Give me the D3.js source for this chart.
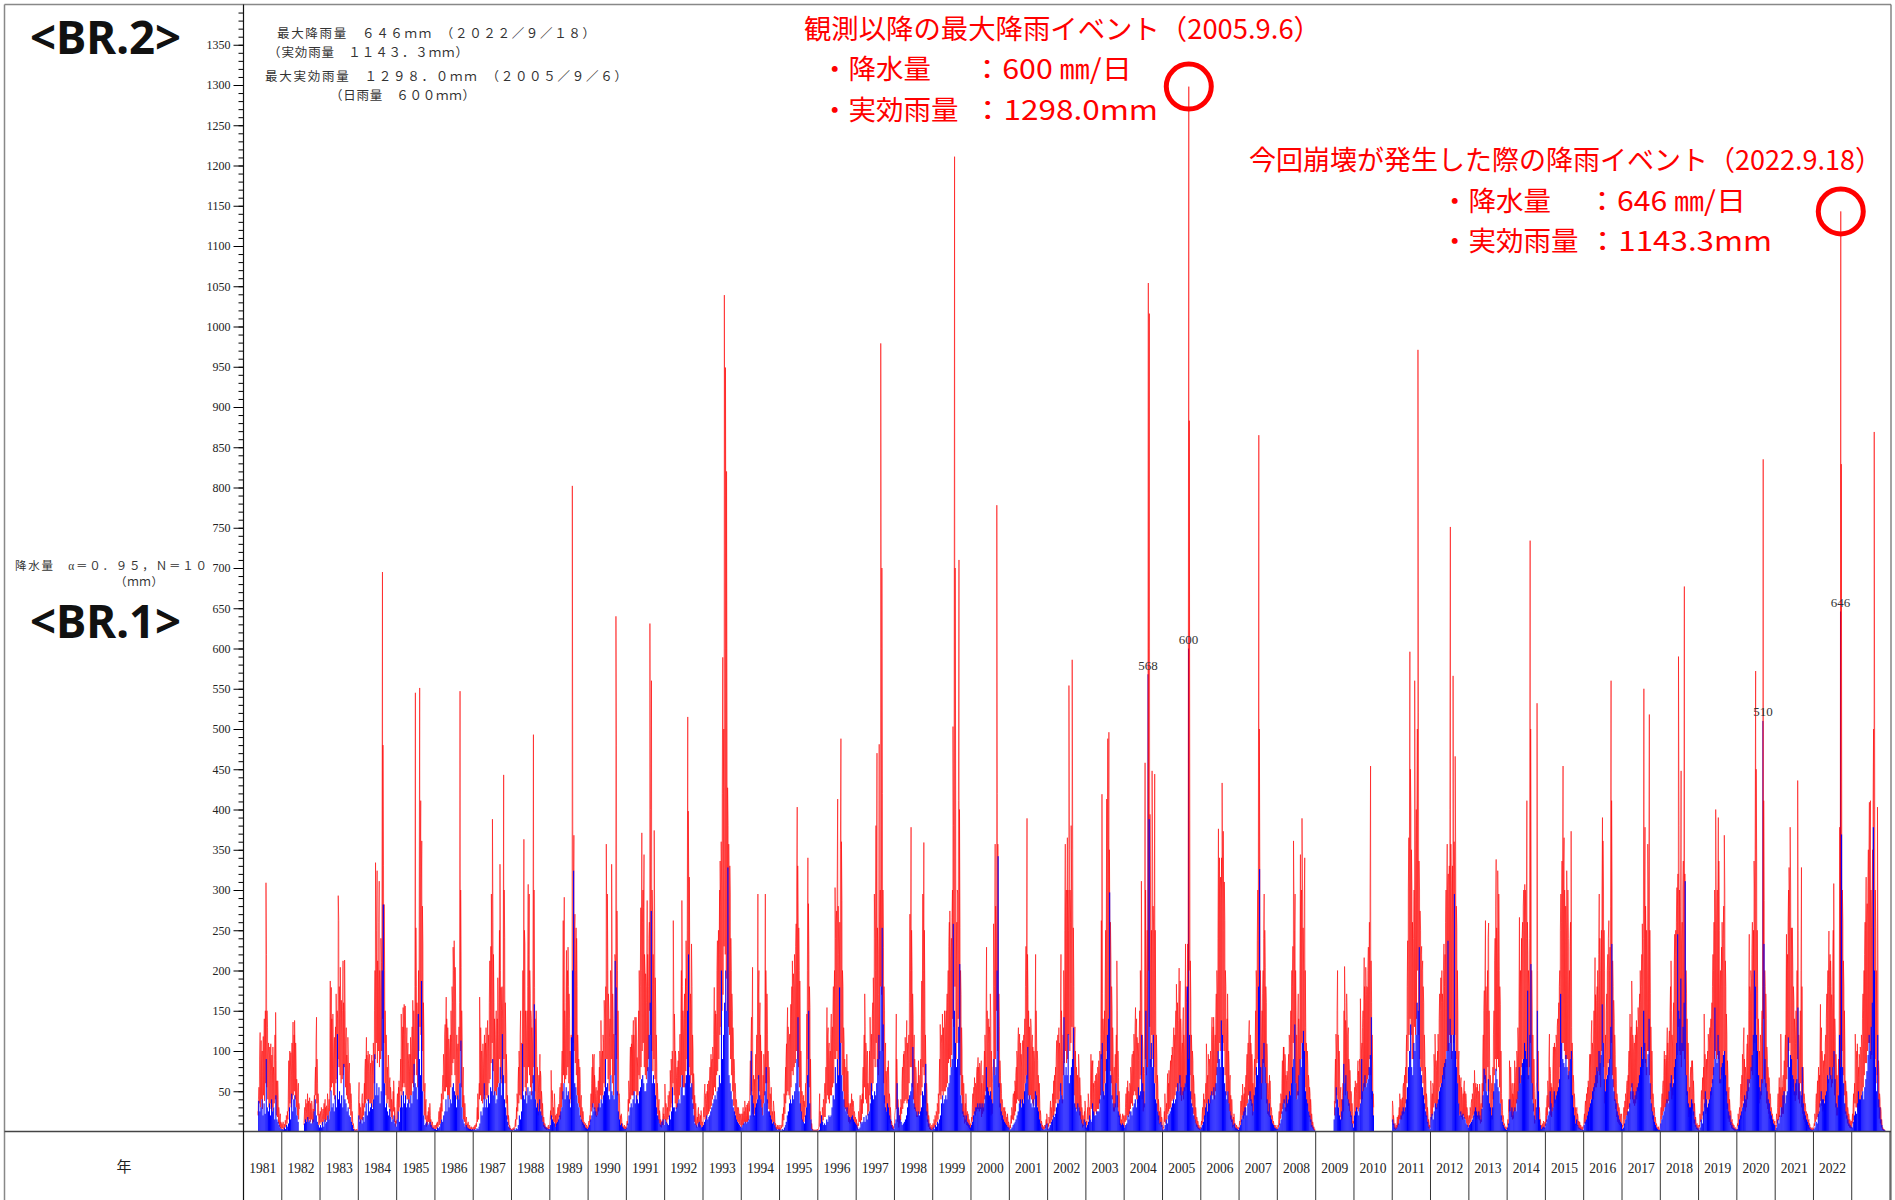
<!DOCTYPE html>
<html>
<head>
<meta charset="utf-8">
<script src="https://cdn.jsdelivr.net/npm/d3@7"></script>
<style>
  html, body { margin: 0; padding: 0; background: #fff; }
  svg { display: block; }
</style>
</head>
<body>
<svg id="chart" width="1895" height="1200"></svg>
<script>
// ---------------------------------------------------------------
// Rainfall record 1981-2023
// effectiveRain:    effective rainfall (mm), 6 samples per month (every 5 days)
// effectiveRainLow: lowest effective rainfall (mm) in each 10-day period
// dailyRain:        largest daily rainfall (mm) in each 10-day period
// null = no observation
// ---------------------------------------------------------------
const N = null;
const firstYear = 1981;

const effectiveRain = [
  /*1981*/ [N,N,N,N,N,N, N,N,N,N,N,N, N,N,N,N,N,N, N,N,N,N,N,N, N,N,N,25,40,55, 90,123,70,113,85,100, 75,118,90,140,100,150, 309,220,150,129,95,110, 80,105,70,109,75,95, 60,105,80,70,90,120, 148,88,63,45,63,40, 30,22,15,22,12,8],
  /*1982*/ [10,6,12,8,5,9, 14,8,20,12,25,15, 40,88,60,100,75,98, 70,110,85,136,90,120, 138,95,110,80,65,55, 43,60,35,28,N,N, N,N,N,N,N,N, 18,30,25,40,22,35, 47,30,38,25,42,30, 35,25,38,30,22,28, 35,45,60,80,110,142, 90,60,47,35,22,15],
  /*1983*/ [25,18,30,20,15,28, 22,35,28,40,30,25, 32,28,47,35,30,40, 55,187,120,179,140,110, 146,100,90,117,85,130, 171,120,150,140,293,262, 180,150,204,140,163,120, 150,212,160,140,213,150, 110,129,95,80,117,90, 72,85,60,55,47,35, 25,13,10,6,3,2, 2,2,3,2,2,3],
  /*1984*/ [40,61,35,28,30,22, 40,47,35,30,45,60, 75,90,80,117,95,85, 100,75,88,96,70,85, 80,95,70,88,110,85, 150,200,334,220,250,324, 212,180,260,311,200,171, 240,210,280,695,480,330, 282,200,150,96,120,90, 80,67,95,75,60,67, 55,47,40,35,30,50, 63,45,30,20,13,10],
  /*1985*/ [35,47,30,55,63,45, 60,90,146,110,95,130, 154,120,158,130,156,120, 100,129,90,110,85,96, 75,96,117,90,105,130, 163,120,150,110,180,545, 253,180,160,140,121,200, 260,551,320,411,300,361, 280,233,160,120,47,60, 35,40,13,20,15,25, 30,22,35,20,15,10, 8,12,6,5,8,5],
  /*1986*/ [5,8,6,10,12,8, 15,25,18,30,22,35, 47,30,55,70,96,80, 120,133,110,167,140,120, 129,100,115,100,90,120, 150,110,180,160,229,200, 237,180,204,150,88,120, 100,109,90,130,160,547, 300,204,150,110,59,80, 45,26,35,20,13,18, 10,8,12,6,5,8, 5,4,6,3,4,5],
  /*1987*/ [4,6,5,8,5,10, 15,30,47,25,40,60, 167,110,129,90,100,85, 109,80,95,120,100,110, 129,90,110,138,100,120, 160,212,150,230,295,200, 388,260,220,160,140,100, 121,150,110,140,191,120, 160,250,332,200,179,150, 180,140,160,443,300,241, 160,120,96,70,45,26, 20,14,8,6,4,3],
  /*1988*/ [3,2,4,3,5,3, 8,15,12,30,47,35, 60,80,100,75,120,150, 110,109,90,200,120,363, 250,233,150,125,110,150, 180,307,220,295,200,171, 150,140,129,110,200,493, 300,179,140,120,150,96, 80,60,47,70,55,96, 75,67,50,40,35,22, 18,12,10,8,6,5, 5,4,6,8,5,4],
  /*1989*/ [15,26,76,40,51,35, 30,25,47,30,20,13, 15,22,18,30,25,34, 40,55,34,60,75,100, 90,262,180,291,150,129, 160,225,180,200,229,180, 171,140,100,72,120,100, 802,324,290,368,250,270, 200,253,240,180,120,100, 90,72,80,60,38,45, 30,22,25,15,12,10, 8,10,6,8,5,6],
  /*1990*/ [8,13,10,20,30,47, 60,80,96,70,90,96, 70,60,47,55,40,51, 45,63,55,80,100,75, 138,100,90,100,120,110, 163,140,130,180,357,250, 295,200,171,150,117,140, 200,180,332,220,171,140, 121,100,220,212,640,480, 274,200,150,90,47,35, 13,20,22,15,10,8, 6,5,8,5,6,4],
  /*1991*/ [8,13,20,40,63,50, 80,105,90,109,120,100, 109,138,120,100,142,130, 142,110,92,80,110,150, 200,150,180,278,200,371, 260,300,278,344,220,200, 196,180,160,287,220,180, 240,260,631,400,330,560, 300,270,220,183,374,250, 191,150,120,80,60,45, 30,40,26,20,15,13, 10,13,20,30,22,15],
  /*1992*/ [59,40,35,30,20,30, 45,30,50,40,76,55, 90,72,100,80,262,150, 146,110,100,88,67,80, 70,88,100,95,120,121, 140,200,287,180,150,121, 140,171,140,190,237,180, 250,515,398,300,316,200, 171,150,233,180,120,100, 72,60,45,26,35,20, 13,18,25,30,22,15, 13,20,26,18,12,10],
  /*1993*/ [18,30,45,59,40,47, 35,50,59,45,63,55, 63,80,70,96,85,90, 105,90,120,179,130,150, 146,120,200,237,180,250, 220,300,336,280,360,300, 420,589,427,500,1039,700, 949,600,820,500,427,380, 357,300,330,295,240,200, 171,150,129,110,90,76, 60,47,40,35,30,28, 30,25,22,20,18,22],
  /*1994*/ [13,22,18,30,20,25, 38,25,30,20,33,28, 35,25,38,30,60,88, 110,142,120,204,55,70, 47,65,50,96,80,120, 100,295,171,200,130,160, 120,88,100,60,47,70, 96,80,120,295,200,160, 171,120,100,63,80,60, 47,40,55,30,25,20, 38,30,25,13,10,8, 5,6,8,6,5,8],
  /*1995*/ [5,3,8,6,10,22, 15,30,47,35,60,80, 90,109,121,154,130,121, 110,121,100,158,140,180, 212,160,196,180,220,196, 230,258,300,403,330,253, 253,200,187,120,100,63, 50,40,30,45,38,30, 47,60,80,146,200,340, 283,220,180,154,90,40, 10,5,3,2,2,2, 2,2,2,2,2,3],
  /*1996*/ [2,4,20,47,25,13, 20,15,30,22,40,35, 47,60,40,80,100,154, 120,129,100,110,88,100, 120,146,110,130,146,180, 160,200,303,240,260,274, 300,413,280,220,179,260, 350,488,360,287,200,180, 129,110,90,63,80,70, 96,60,75,47,35,30, 26,35,30,47,40,30, 38,30,25,22,18,15],
  /*1997*/ [15,8,5,10,25,18, 30,45,22,40,35,47, 60,80,90,120,171,130, 110,96,80,100,60,47, 70,100,142,110,90,121, 140,160,191,150,295,240, 200,380,300,470,253,220, 170,481,260,300,979,600, 700,420,300,229,180,150, 88,110,75,59,70,80, 88,60,47,40,30,20, 13,10,8,5,6,5],
  /*1998*/ [20,26,80,146,90,59, 40,30,13,20,25,30, 40,30,60,80,70,96, 100,80,117,90,100,138, 110,88,100,120,160,270, 200,378,250,200,171,140, 96,120,90,63,80,70, 47,60,45,88,70,60, 59,90,120,187,140,295, 200,359,250,171,120,80, 60,47,35,26,20,15, 8,10,6,5,8,5],
  /*1999*/ [10,5,15,8,20,12, 25,20,35,30,47,40, 60,90,133,100,109,120, 146,110,129,100,150,120, 130,150,140,171,160,200, 230,260,274,200,212,240, 266,300,503,380,350,1211, 700,400,212,260,300,295, 411,710,400,253,200,170, 129,100,70,47,60,40, 26,35,47,30,22,25, 22,18,15,12,10,8],
  /*2000*/ [12,18,30,47,40,55, 67,50,60,55,70,80, 75,92,80,72,85,70, 80,88,60,47,70,60, 75,100,120,90,140,229, 150,120,109,140,130,120, 171,140,100,47,60,80, 258,200,180,357,280,240, 778,420,357,250,171,130, 88,70,60,47,40,35, 26,30,22,30,25,20, 13,18,22,15,12,10],
  /*2001*/ [5,8,12,20,30,25, 40,47,35,50,63,55, 70,80,100,90,110,129, 100,121,90,110,96,80, 100,113,90,120,113,140, 180,230,200,389,220,170, 150,117,130,100,140,129, 110,120,105,90,100,88, 120,220,150,110,100,88, 70,47,60,35,26,20, 13,10,8,5,6,5, 8,6,10,15,22,18],
  /*2002*/ [5,10,18,12,25,38, 30,22,35,47,40,63, 55,70,63,80,90,113, 100,120,90,129,110,100, 140,220,150,100,88,120, 200,160,250,357,280,300, 240,365,300,250,554,350, 300,260,380,300,586,350, 253,180,109,130,100,72, 80,59,70,60,96,80, 67,50,45,35,30,25, 20,13,18,25,38,30],
  /*2003*/ [8,13,20,30,47,35, 30,25,40,96,70,88, 80,88,60,47,55,63, 70,63,72,60,80,72, 88,70,100,88,120,262, 419,171,140,120,109,150, 171,250,200,413,297,488, 300,496,350,241,260,212, 180,150,129,100,67,80, 60,96,80,120,212,150, 100,67,50,35,22,18, 15,13,18,22,20,15],
  /*2004*/ [13,20,30,47,35,55, 63,45,50,47,60,55, 80,70,90,96,85,100, 121,100,130,154,120,140, 117,100,110,88,120,150, 200,160,311,150,120,100, 80,47,72,458,300,200, 180,250,200,1054,600,1016, 394,300,204,250,448,336, 280,250,200,444,250,150, 120,90,70,55,40,30, 25,20,30,22,18,15],
  /*2005*/ [3,5,12,25,47,30, 22,35,40,72,55,60, 76,60,70,88,80,95, 105,90,110,129,100,120, 129,150,183,140,160,120, 138,203,160,187,140,120, 96,110,130,154,120,100, 140,233,180,160,150,233, 420,1298,883,386,212,160, 120,96,100,88,70,60, 47,40,30,22,18,15, 13,10,8,6,5,5],
  /*2006*/ [8,13,20,30,25,47, 40,35,47,60,109,80, 63,70,96,80,90,80, 100,80,120,142,110,130, 142,110,96,120,140,171, 200,171,240,376,262,340, 300,316,280,340,433,300, 373,250,310,262,200,180, 105,140,171,120,100,80, 63,70,45,30,40,25, 13,18,22,15,10,8, 5,8,6,5,4,5],
  /*2007*/ [8,13,20,38,30,45, 59,45,40,47,55,50, 59,70,80,96,90,110, 120,138,100,120,110,96, 96,80,60,47,70,90, 109,150,200,180,237,300, 250,865,500,324,200,150, 105,150,171,200,240,295, 250,204,180,160,109,90, 60,47,55,70,63,40, 30,25,20,15,13,10, 8,5,6,8,5,4],
  /*2008*/ [5,8,15,25,20,35, 47,40,60,88,70,105, 105,80,96,90,70,63, 75,63,80,96,120,110, 96,150,120,200,180,230, 361,280,250,295,200,150, 120,88,130,171,140,120, 200,344,280,300,389,300, 253,200,280,340,200,129, 110,88,100,80,70,63, 55,47,40,30,22,15, 12,8,6,4,3,3],
  /*2009*/ [N,N,N,N,N,N, N,N,N,N,N,N, N,N,N,N,N,N, N,N,N,N,N,N, N,N,N,N,N,N, N,N,N,N,N,38, 63,90,121,100,150,200, 120,80,100,60,47,55, 40,30,45,60,80,150, 205,160,138,120,171,140, 120,129,90,80,76,60, 50,47,35,25,13,10],
  /*2010*/ [40,55,63,50,47,60, 70,88,75,65,90,80, 165,120,100,110,129,150, 140,216,180,160,204,170, 180,179,200,229,190,260, 300,454,212,160,120,80, 47,30,N,N,N,N, N,N,N,N,N,N, N,N,N,N,N,N, N,N,N,N,N,N, N,N,N,N,N,N, N,N,N,N,N,N],
  /*2011*/ [38,30,20,13,8,10, 5,8,6,18,12,20, 18,30,47,35,40,38, 40,42,55,60,50,70, 59,80,96,120,180,237, 300,365,320,596,450,398, 350,295,260,212,240,300, 560,361,320,400,380,500, 971,520,336,300,274,250, 220,230,200,212,180,160, 120,96,80,60,47,40, 30,22,15,10,8,5],
  /*2012*/ [63,50,40,47,60,55, 96,80,121,90,88,76, 70,100,121,90,140,171, 150,191,160,200,171,160, 200,233,180,220,260,300, 280,357,300,320,280,330, 400,751,357,300,260,330, 566,295,360,320,466,336, 280,253,200,150,88,100, 70,47,60,67,55,47, 40,47,55,63,50,40, 47,35,30,25,20,15],
  /*2013*/ [15,20,30,25,35,40, 47,40,60,50,76,55, 47,60,40,55,59,45, 50,47,59,40,30,35, 30,60,90,120,150,175, 200,262,180,150,142,200, 241,259,150,88,70,60, 47,60,38,80,120,150, 212,240,280,338,253,200, 324,250,295,200,180,158, 100,47,40,26,20,15, 10,8,5,6,4,5],
  /*2014*/ [8,15,22,40,88,60, 80,55,47,60,47,40, 47,60,88,70,67,80, 100,90,129,110,150,266, 171,200,171,240,240,260, 280,300,250,307,300,260, 240,411,260,220,200,180, 240,734,500,300,200,150, 120,67,90,50,26,40, 47,60,532,200,100,60, 30,22,15,10,5,8, 8,10,13,10,8,12],
  /*2015*/ [20,30,38,45,63,50, 90,121,80,72,60,47, 55,47,80,105,90,110, 105,100,120,110,130,140, 133,160,180,200,250,295, 260,336,300,454,330,365, 300,262,280,250,324,260, 300,240,171,200,230,260, 373,129,110,88,70,60, 47,40,30,22,25,30, 22,18,13,10,12,8, 8,6,5,6,5,4],
  /*2016*/ [15,22,30,38,25,47, 40,55,63,50,70,96, 80,96,120,138,110,100, 109,150,130,216,170,140, 163,180,200,160,220,295, 240,200,150,250,300,390, 361,300,250,200,96,120, 150,171,200,220,240,262, 200,229,280,560,411,300, 212,180,163,140,120,96, 80,60,47,40,35,30, 30,25,22,20,18,22],
  /*2017*/ [5,8,15,30,22,38, 47,40,55,63,50,70, 80,100,90,146,120,130, 187,150,120,113,100,110, 96,120,100,138,130,120, 154,130,150,171,200,160, 180,220,258,200,240,550, 300,378,280,229,250,200, 357,300,300,518,250,171, 130,88,100,60,47,40, 30,22,18,13,10,8, 5,4,6,3,3,4],
  /*2018*/ [20,30,40,47,55,63, 70,100,90,80,95,88, 100,129,110,88,110,125, 150,180,212,150,120,105, 130,160,200,245,220,250, 260,303,280,320,590,380, 300,250,280,448,233,260, 300,336,280,677,320,250, 200,171,140,88,110,70, 47,55,63,80,70,88, 88,70,63,47,35,22, 18,12,8,10,6,8],
  /*2019*/ [3,8,22,15,35,51, 40,67,55,80,146,100, 96,80,63,90,75,100, 121,110,100,129,115,140, 129,160,180,220,200,260, 300,250,400,295,260,300, 280,390,336,250,171,200, 180,229,260,200,240,280, 368,300,212,180,146,120, 88,70,47,55,40,30, 26,20,13,15,10,8, 8,6,4,5,3,3],
  /*2020*/ [5,10,22,15,25,30, 40,59,45,70,96,80, 110,129,90,63,80,70, 90,109,120,100,150,245, 180,171,200,190,220,260, 191,250,336,300,350,572, 450,336,250,171,140,120, 100,88,120,109,130,150, 180,835,411,287,200,180, 171,140,105,90,80,70, 67,55,47,40,30,25, 22,18,13,15,10,13],
  /*2021*/ [3,8,22,15,30,47, 40,67,55,50,121,80, 47,55,63,70,60,88, 100,120,150,245,200,220, 260,300,328,280,378,300, 253,220,253,200,180,163, 140,120,109,150,130,200, 436,250,120,100,105,150, 200,328,180,67,80,60, 47,40,35,30,25,22, 22,18,13,15,10,8, 5,4,3,5,3,4],
  /*2022*/ [5,10,22,15,35,47, 40,63,50,80,60,70, 90,158,110,129,100,88, 70,88,80,96,110,120, 140,171,150,200,180,249, 200,220,212,180,170,150, 200,250,308,171,140,120, 96,80,70,47,60,90, 150,378,250,1143,829,328, 300,260,212,180,150,100, 63,55,50,40,30,25, 22,18,15,13,12,13],
  /*2023*/ [13,22,30,47,40,60, 121,90,88,100,109,80, 67,80,96,90,105,100, 120,105,140,171,150,200, 220,260,250,316,260,283, 300,350,330,409,340,411, 300,253,280,350,411,500, 869,400,300,253,200,150, 403,200,88,70,47,40, 30,25,15,8,5,3, 3,2,2,N,N,N, N,N,N,N,N,N]
];

const effectiveRainLow = [
  /*1981*/ [N,N,N,N,N,N, N,N,N,N,N,N, N,N,20,35,30,40, 28,45,38,60,55,40, 30,35,28,25,30,35, 40,20,18,10,6,4],
  /*1982*/ [3,4,2,5,6,10, 15,25,35,30,40,45, 50,40,30,20,15,N, N,N,N,8,12,10, 15,12,15,12,15,10, 12,25,45,35,20,8],
  /*1983*/ [10,12,8,12,15,12, 14,20,15,25,50,55, 60,45,40,60,65,90, 80,70,60,65,70,80, 55,45,40,35,28,20, 10,4,1,1,1,1],
  /*1984*/ [18,15,10,15,14,20, 30,35,40,38,40,35, 35,30,40,60,90,110, 85,100,80,90,100,140, 110,60,45,35,40,30, 25,18,15,25,12,6],
  /*1985*/ [15,15,25,30,50,45, 55,60,55,45,40,40, 35,45,45,60,55,70, 90,70,55,100,130,120, 100,50,20,15,6,8, 12,10,6,4,3,3],
  /*1986*/ [2,3,4,6,8,10, 15,25,40,50,50,55, 45,45,40,55,70,85, 90,70,40,45,40,60, 100,55,30,15,12,6, 4,4,2,2,2,2],
  /*1987*/ [2,2,3,6,12,15, 40,45,38,35,40,45, 40,45,42,60,65,85, 110,75,45,50,45,55, 60,90,65,60,60,90, 60,35,15,8,3,2],
  /*1988*/ [1,1,2,4,6,15, 25,35,45,40,40,50, 80,55,45,60,80,70, 55,45,60,80,50,40, 30,20,25,28,20,12, 6,4,3,2,3,2],
  /*1989*/ [8,15,18,12,12,6, 6,8,12,18,15,30, 40,70,60,65,70,80, 60,35,40,100,110,100, 85,70,45,35,30,18, 12,8,5,4,3,2],
  /*1990*/ [3,5,12,25,30,35, 28,20,18,20,25,35, 45,40,45,60,55,90, 90,65,50,70,90,60, 45,70,120,90,45,15, 6,8,4,3,3,2],
  /*1991*/ [3,8,25,35,40,45, 45,45,50,50,35,45, 70,65,80,100,110,80, 70,65,75,90,150,120, 100,75,90,65,40,22, 14,10,6,5,8,8],
  /*1992*/ [20,14,10,15,18,25, 30,35,60,45,35,28, 30,40,45,55,70,55, 55,55,75,90,110,80, 60,70,40,28,12,8, 5,10,6,5,8,4],
  /*1993*/ [6,18,15,15,20,22, 25,28,32,40,45,55, 50,70,75,90,120,130, 150,170,230,220,190,150, 130,120,90,70,50,32, 22,15,12,12,9,8],
  /*1994*/ [5,8,8,12,10,12, 12,14,25,45,50,22, 18,22,30,40,65,50, 40,30,20,35,45,60, 60,35,28,18,14,8, 12,8,4,2,3,2],
  /*1995*/ [1,2,4,6,14,22, 35,45,50,45,40,55, 75,70,80,85,100,90, 80,55,25,15,12,12, 18,30,60,90,55,15, 3,1,1,1,1,1],
  /*1996*/ [1,6,6,6,10,14, 18,18,35,45,40,35, 45,45,55,60,90,90, 100,90,70,110,110,70, 50,30,28,25,22,12, 10,12,14,12,9,6],
  /*1997*/ [4,2,7,12,10,14, 22,35,55,40,35,20, 25,45,40,50,60,90, 80,110,80,70,90,180, 170,100,60,35,25,25, 28,15,10,4,3,2],
  /*1998*/ [8,30,28,12,5,10, 14,22,28,35,38,40, 35,38,60,80,80,55, 40,28,25,18,18,22, 22,45,55,80,70,35, 20,12,6,3,2,2],
  /*1999*/ [2,4,5,8,12,15, 22,45,40,50,45,50, 50,55,60,85,90,80, 95,140,130,180,90,110, 140,110,70,45,22,18, 10,12,8,7,5,3],
  /*2000*/ [4,12,15,22,20,25, 28,28,25,28,18,22, 25,40,50,50,40,45, 55,20,22,80,70,90, 150,100,55,30,20,14, 10,9,8,5,6,4],
  /*2001*/ [2,4,10,15,14,20, 25,35,40,38,35,30, 35,35,40,60,70,65, 45,40,45,40,35,32, 40,45,32,20,14,8, 4,2,2,3,4,8],
  /*2002*/ [2,6,10,10,14,18, 20,25,35,40,35,40, 50,45,35,70,85,100, 85,90,120,100,110,130, 80,45,30,28,25,30, 20,15,10,5,7,12],
  /*2003*/ [3,8,15,10,15,28, 30,20,20,25,22,28, 28,35,45,90,50,40, 60,75,100,110,90,75, 60,40,25,25,30,60, 30,18,8,5,6,6],
  /*2004*/ [5,12,14,20,18,22, 28,35,32,45,50,45, 40,35,45,65,70,40, 25,30,90,70,80,200, 130,80,120,90,80,60, 40,25,14,9,10,6],
  /*2005*/ [1,4,12,10,15,22, 25,28,30,38,40,40, 45,55,50,50,60,45, 38,45,40,50,60,55, 90,200,70,40,32,22, 15,10,6,4,3,2],
  /*2006*/ [3,8,10,15,18,35, 25,35,32,35,45,45, 45,40,50,70,85,100, 110,100,120,110,100,70, 45,50,35,25,15,12, 5,7,4,2,2,2],
  /*2007*/ [3,8,12,20,16,20, 24,32,35,45,40,38, 32,20,25,40,70,85, 90,120,60,40,60,85, 80,60,35,22,20,18, 10,7,4,3,2,2],
  /*2008*/ [2,5,8,16,22,28, 35,35,25,25,30,40, 35,45,60,110,90,60, 40,45,45,70,90,110, 80,90,55,38,32,25, 18,12,6,4,2,1],
  /*2009*/ [N,N,N,N,N,N, N,N,N,N,N,N, N,N,N,N,N,N, 20,35,45,40,30,18, 14,15,25,60,45,50, 40,32,25,18,10,5],
  /*2010*/ [15,20,18,28,25,30, 40,35,40,50,55,55, 60,65,70,90,70,40, 18,N,N,N,N,N, N,N,N,N,N,N, N,N,N,N,N,N],
  /*2011*/ [12,8,3,2,3,5, 8,15,15,15,20,22, 25,35,60,100,120,140, 120,90,90,130,120,140, 200,120,90,80,75,60, 40,28,18,10,5,3],
  /*2012*/ [22,15,20,30,35,28, 28,35,50,55,60,55, 70,65,80,100,100,100, 120,110,90,120,110,120, 90,60,35,20,22,18, 15,20,16,15,10,6],
  /*2013*/ [5,10,12,16,20,22, 18,15,18,16,14,10, 12,30,50,65,60,50, 80,50,25,18,15,40, 70,90,75,90,80,55, 35,14,7,4,2,2],
  /*2014*/ [3,8,25,25,18,15, 16,25,25,35,40,50, 60,60,80,90,85,90, 80,80,65,80,110,60, 40,25,10,15,60,28, 12,5,2,3,4,3],
  /*2015*/ [7,12,20,30,28,20, 18,25,30,35,40,45, 45,60,80,90,110,110, 100,90,90,90,65,75, 90,40,25,16,10,8, 7,4,3,2,2,1],
  /*2016*/ [5,10,10,15,20,25, 28,40,40,40,50,55, 55,60,75,70,55,100, 110,80,35,50,70,85, 70,90,110,70,55,38, 28,18,12,10,8,6],
  /*2017*/ [2,6,8,15,20,20, 28,30,40,55,40,35, 32,35,40,50,50,60, 60,80,80,100,85,70, 100,100,70,40,25,15, 10,6,3,2,2,1],
  /*2018*/ [8,15,20,25,30,30, 35,35,38,50,55,40, 45,65,75,90,95,130, 100,95,80,100,100,90, 70,45,30,18,22,25, 28,20,10,6,3,2],
  /*2019*/ [1,6,12,15,20,40, 30,22,25,40,35,40, 45,60,70,90,100,90, 95,90,60,60,70,80, 100,65,45,28,16,12, 8,4,3,2,1,1],
  /*2020*/ [2,7,8,14,16,30, 38,30,25,30,40,50, 60,65,75,70,100,110, 140,80,45,35,40,45, 60,140,65,55,35,28, 22,16,10,7,5,4],
  /*2021*/ [1,6,10,14,18,30, 18,22,22,35,50,65, 80,100,110,80,70,55, 45,38,45,90,40,35, 60,30,22,15,12,8, 7,4,3,2,1,1],
  /*2022*/ [2,7,12,15,18,22, 30,38,32,25,28,38, 45,50,60,70,65,55, 60,80,45,30,20,20, 45,80,120,100,70,45, 22,16,10,7,5,4],
  /*2023*/ [4,10,14,35,30,30, 25,32,35,40,50,55, 70,85,85,100,110,110, 90,95,130,160,90,60, 70,30,16,10,5,2, 1,1,N,N,N,N]
];

const dailyRain = [
  /*1981*/ [N,N,N,N,N,N, N,N,N,N,N,N, N,N,38,25,30,40, 20,35,22,90,30,25, 35,20,40,25,30,15, 45,15,12,8,5,3],
  /*1982*/ [3,2,5,3,8,6, 10,30,15,47,25,40, 45,30,20,12,N,N, N,N,N,10,15,12, 18,12,14,10,10,15, 25,40,20,12,8,5],
  /*1983*/ [8,5,12,6,15,10, 12,20,15,25,51,30, 35,25,45,30,121,40, 50,35,45,30,84,40, 35,25,30,20,18,12, 8,3,1,1,1,1],
  /*1984*/ [20,12,15,10,18,12, 25,35,20,40,25,30, 35,28,40,96,45,60, 45,55,35,50,200,282, 60,30,35,25,20,28, 18,12,15,20,10,6],
  /*1985*/ [15,25,12,30,45,30, 50,35,45,30,35,40, 30,45,35,50,84,60, 55,40,146,90,70,187, 50,20,8,10,12,8, 10,12,8,5,4,3],
  /*1986*/ [3,2,5,4,6,10, 15,12,20,25,40,25, 45,30,40,35,55,60, 50,45,30,45,40,60, 113,30,15,10,6,8, 5,4,3,3,2,3],
  /*1987*/ [2,3,2,4,3,6, 10,25,20,30,60,30, 40,30,45,35,55,50, 90,45,50,35,40,55, 60,80,45,121,70,40, 30,20,12,6,4,2],
  /*1988*/ [2,1,3,2,4,3, 8,20,15,25,109,45, 40,50,35,55,45,50, 40,50,70,158,40,30, 35,25,40,25,20,12, 8,6,5,4,3,3],
  /*1989*/ [8,20,15,12,10,6, 10,12,15,20,25,30, 50,60,40,55,45,50, 40,30,117,200,324,60, 55,45,35,30,20,15, 12,10,8,5,4,3],
  /*1990*/ [5,8,15,20,35,25, 30,25,20,30,35,30, 40,35,45,50,90,55, 60,45,40,70,50,45, 40,212,179,50,25,15, 8,10,6,4,3,3],
  /*1991*/ [5,10,20,30,35,30, 40,50,35,45,40,35, 50,55,65,70,60,50, 50,60,80,120,160,274, 60,70,60,45,30,20, 15,10,8,12,15,8],
  /*1992*/ [15,12,10,8,20,15, 25,55,30,30,25,30, 35,40,35,55,70,45, 45,60,70,150,220,70, 55,60,35,20,10,8, 6,10,12,8,5,6],
  /*1993*/ [8,12,15,20,15,18, 20,25,30,35,40,45, 40,50,55,70,60,200, 90,120,160,200,150,328, 70,60,50,40,30,25, 20,15,12,10,8,6],
  /*1994*/ [5,8,10,12,10,12, 12,15,20,100,45,35, 20,30,35,40,70,45, 40,30,20,35,50,80, 40,25,25,20,15,10, 12,8,5,3,2,3],
  /*1995*/ [2,1,3,2,5,8, 12,20,25,35,40,35, 45,40,50,60,90,142, 50,35,25,15,12,10, 20,30,70,150,35,15, 3,1,1,1,1,1],
  /*1996*/ [1,2,10,20,12,8, 10,8,15,12,20,18, 20,30,45,40,80,60, 90,70,179,110,70,50, 40,30,25,30,20,18, 15,18,20,15,12,10],
  /*1997*/ [8,5,3,5,12,10, 12,18,12,20,15,22, 25,35,60,45,40,50, 45,60,90,120,100,180, 253,133,45,30,25,35, 30,20,15,8,5,3],
  /*1998*/ [10,15,60,30,20,15, 12,8,10,12,15,20, 30,40,45,50,60,105, 35,30,25,20,25,20, 25,30,50,45,60,84, 25,15,10,5,3,2],
  /*1999*/ [5,3,8,6,12,10, 15,20,35,45,35,40, 45,40,55,60,70,80, 90,258,150,110,80,90, 130,208,45,35,25,20, 15,20,12,10,8,5],
  /*2000*/ [8,12,20,25,30,30, 35,30,35,30,35,30, 35,45,80,55,50,45, 50,40,35,90,70,80, 200,342,60,35,25,20, 15,12,10,8,6,5],
  /*2001*/ [2,3,5,8,10,12, 15,20,25,35,40,30, 40,35,50,60,70,105, 40,45,35,30,40,30, 50,45,30,25,15,10, 5,3,2,3,8,10],
  /*2002*/ [3,5,8,12,15,20, 18,22,30,35,35,40, 60,45,40,142,70,80, 70,121,60,70,80,90, 129,35,30,25,35,30, 25,15,10,8,15,12],
  /*2003*/ [5,8,12,20,15,12, 35,25,20,20,25,25, 25,40,96,110,50,45, 60,90,120,140,297,70, 45,35,30,35,60,45, 25,20,10,8,10,8],
  /*2004*/ [5,8,10,20,15,25, 25,20,30,35,40,30, 40,55,45,50,120,60, 50,35,150,80,568,388, 90,110,80,120,60,40, 35,25,20,10,12,8],
  /*2005*/ [2,3,8,15,10,20, 22,25,30,35,40,35, 40,50,60,50,70,55, 45,50,55,60,70,180, 600,120,50,35,30,20, 15,10,8,5,4,3],
  /*2006*/ [5,8,12,20,30,35, 25,40,35,45,50,40, 55,45,60,80,100,90, 80,138,120,80,60,50, 40,50,35,25,20,15, 8,10,5,4,3,2],
  /*2007*/ [5,8,15,20,25,30, 30,20,35,40,50,40, 35,25,45,55,80,70, 180,326,80,60,90,110, 80,60,40,25,35,20, 15,10,8,5,4,3],
  /*2008*/ [3,5,10,15,25,35, 40,30,45,35,40,50, 45,60,80,90,133,60, 40,50,70,90,80,110, 125,100,50,40,35,25, 20,15,8,5,2,1],
  /*2009*/ [N,N,N,N,N,N, N,N,N,N,N,N, N,N,N,N,N,15, 30,55,40,30,20,15, 25,40,84,60,70,50, 40,35,25,20,10,5],
  /*2010*/ [20,25,30,25,20,30, 35,90,50,60,70,55, 60,65,80,95,142,50, 20,N,N,N,N,N, N,N,N,N,N,N, N,N,N,N,N,N],
  /*2011*/ [15,10,5,3,5,8, 10,15,20,25,30,25, 30,40,55,80,100,133, 80,70,110,100,120,160, 150,229,80,70,55,45, 35,25,20,12,6,3],
  /*2012*/ [18,22,15,25,35,30, 35,40,50,55,60,70, 80,85,90,100,237,110, 140,120,100,120,295,100, 80,60,35,20,25,20, 22,18,15,10,8,5],
  /*2013*/ [8,10,12,15,20,25, 30,25,20,25,20,15, 28,45,78,70,50,45, 65,35,30,20,30,50, 60,78,65,55,50,35, 20,12,8,5,3,2],
  /*2014*/ [5,10,40,25,30,20, 25,30,25,40,50,80, 60,70,85,90,110,100, 90,175,70,120,208,60, 35,20,15,30,150,50, 15,8,3,5,6,5],
  /*2015*/ [10,15,20,25,50,35, 25,30,50,40,45,50, 55,65,171,110,90,85, 80,95,80,70,75,90, 100,45,30,20,10,15, 8,5,4,3,2,2],
  /*2016*/ [8,12,15,20,25,30, 35,40,50,55,60,70, 80,75,100,85,95,158, 110,65,50,65,70,80, 90,130,233,65,50,40, 35,25,20,15,12,10],
  /*2017*/ [3,5,10,15,20,25, 25,35,50,60,50,40, 45,50,55,60,70,80, 105,90,150,110,90,80, 96,140,60,35,25,20, 12,8,5,3,2,2],
  /*2018*/ [10,15,20,25,30,35, 40,35,50,60,70,55, 60,80,90,110,245,150, 140,190,110,130,160,311, 70,50,35,30,30,40, 35,25,15,8,5,4],
  /*2019*/ [2,5,15,10,25,35, 50,40,30,35,40,50, 55,65,80,154,90,85, 120,100,65,80,85,95, 100,70,50,35,25,20, 12,8,5,4,3,2],
  /*2020*/ [3,8,15,20,25,30, 35,45,40,50,65,55, 65,80,95,120,200,180, 120,100,70,55,50,65, 510,233,90,60,50,40, 35,25,20,15,10,8],
  /*2021*/ [2,5,15,10,20,30, 30,45,50,35,45,50, 117,80,95,90,70,65, 50,60,65,154,60,50, 45,80,35,25,20,15, 12,8,5,3,2,2],
  /*2022*/ [3,5,12,10,22,25, 35,50,40,40,35,45, 50,70,65,80,70,65, 80,100,65,35,30,45, 120,646,369,80,60,35, 25,20,15,10,8,6],
  /*2023*/ [5,12,20,25,22,35, 50,40,40,45,50,40, 55,65,75,95,120,100, 130,160,378,200,80,50, 120,40,30,15,8,3, 2,1,N,N,N,N]
];

// year cells along the bottom (the 2023 cell carries no label)
const yearLabels = ["1981","1982","1983","1984","1985","1986","1987","1988","1989","1990",
  "1991","1992","1993","1994","1995","1996","1997","1998","1999","2000",
  "2001","2002","2003","2004","2005","2006","2007","2008","2009","2010",
  "2011","2012","2013","2014","2015","2016","2017","2018","2019","2020",
  "2021","2022"];
const yMajorTicks = d3.range(50, 1351, 50);
const yMinorTicks = d3.range(10, 1391, 10);

// highlighted events
const eventYears = [2005, 2022];
const eventTitles = ["観測以降の最大降雨イベント（2005.9.6）", "今回崩壊が発生した際の降雨イベント（2022.9.18）"];
const eventDaily = ["：600 ㎜/日", "：646 ㎜/日"];
const eventEffective = ["：1298.0mm", "：1143.3mm"];

const summaryLines = [
  "最大降雨量　６４６ｍｍ　（２０２２／９／１８）",
  "（実効雨量　１１４３．３ｍｍ）",
  "最大実効雨量　１２９８．０ｍｍ　（２００５／９／６）",
  "（日雨量　６００ｍｍ）"
];

// ---------------------------------------------------------------
const svg = d3.select("#chart");
const W = 1895, H = 1200;
const plotLeft = 243.5, plotRight = 1890, plotTop = 4.5, plotBase = 1131.5;
const serif = "'Liberation Serif', 'DejaVu Serif', 'Noto Sans CJK JP', serif";
const gothic = "'Noto Sans CJK JP', 'Noto Sans', sans-serif";

const x = d3.scaleTime()
  .domain([new Date(firstYear, 0, 1), new Date(firstYear + effectiveRain.length, 0, 1)])
  .range([plotLeft, plotRight]);
const y = d3.scaleLinear().domain([0, 1400]).range([plotBase, plotTop]);

// effective rainfall: for every 10-day period, its low point then its two 5-day values
const redPts = [];
effectiveRain.forEach((row, i) => {
  const yr = firstYear + i;
  const lows = effectiveRainLow[i];
  for (let k = 0; k < 36; k++) {
    const m = Math.floor(k / 3), p = k % 3;
    redPts.push({ date: new Date(yr, m, 1 + 10 * p), v: lows[k], yr, low: true });
    for (let h = 0; h < 2; h++) {
      const j = 2 * k + h;
      redPts.push({ date: new Date(yr, m, 1 + 5 * (j % 6) + 2, 12), v: row[j], yr, low: false });
    }
  }
});

// daily rainfall: one bar per 10-day period
const bluePts = [];
dailyRain.forEach((row, i) => {
  const yr = firstYear + i;
  row.forEach((v, k) => {
    if (v == null) return;
    const m = Math.floor(k / 3), p = k % 3;
    const start = new Date(yr, m, 1 + 10 * p);
    const end = p === 2 ? new Date(yr, m + 1, 1) : new Date(yr, m, 11 + 10 * p);
    bluePts.push({ start, end, v });
  });
});

const drawBars = (g, data) => g.selectAll("rect").data(data).join("rect")
  .attr("x", d => x(d.start))
  .attr("width", d => x(d.end) - x(d.start))
  .attr("y", d => y(d.v))
  .attr("height", d => y(0) - y(d.v))
  .attr("fill", "#0000ff");

// the record days sit under the effective-rainfall spike they produced
const isRecordDay = d => d.v >= 500;
svg.append("g").call(drawBars, bluePts.filter(isRecordDay));

svg.append("path")
  .datum(redPts)
  .attr("fill", "none")
  .attr("stroke", "#ff0000")
  .attr("stroke-width", 0.6)
  .attr("stroke-linejoin", "round")
  .attr("d", d3.line().defined(d => d.v != null).x(d => x(d.date)).y(d => y(d.v)));

svg.append("g").call(drawBars, bluePts.filter(d => !isRecordDay(d)));

// values of the heaviest days
svg.append("g")
  .selectAll("text").data(bluePts.filter(isRecordDay)).join("text")
  .attr("x", d => (x(d.start) + x(d.end)) / 2)
  .attr("y", d => y(d.v) - 9)
  .attr("text-anchor", "middle")
  .attr("dominant-baseline", "central")
  .attr("font-family", serif)
  .attr("font-size", 13)
  .attr("fill", "#333")
  .text(d => d.v);

// frame
const frame = svg.append("g").attr("fill", "none");
frame.append("line").attr("x1", 4.5).attr("x2", 1891).attr("y1", 4.5).attr("y2", 4.5)
  .attr("stroke", "#888").attr("stroke-width", 1.5);
frame.append("line").attr("x1", 4.5).attr("x2", 4.5).attr("y1", 4.5).attr("y2", H)
  .attr("stroke", "#888").attr("stroke-width", 1.5);
frame.append("line").attr("x1", 1891).attr("x2", 1891).attr("y1", 4.5).attr("y2", H)
  .attr("stroke", "#666").attr("stroke-width", 1.2);
frame.append("line").attr("x1", 4.5).attr("x2", 1891).attr("y1", y(0)).attr("y2", y(0))
  .attr("stroke", "#444").attr("stroke-width", 1.6);

// y axis
svg.append("g").attr("transform", `translate(${plotLeft},0)`)
  .call(d3.axisLeft(y).tickValues(yMinorTicks).tickSize(5).tickFormat(""))
  .call(g => g.select(".domain").remove());
svg.append("g").attr("transform", `translate(${plotLeft},0)`)
  .call(d3.axisLeft(y).tickValues(yMajorTicks).tickSize(10).tickPadding(3).tickFormat(d3.format("d")))
  .call(g => g.select(".domain").remove())
  .call(g => g.selectAll("text").attr("font-family", serif).attr("font-size", 12).attr("fill", "#222"));
svg.append("line").attr("x1", plotLeft).attr("x2", plotLeft).attr("y1", 4.5).attr("y2", H)
  .attr("stroke", "#111").attr("stroke-width", 1.2);

// year cells
const yearStarts = d3.range(firstYear, firstYear + effectiveRain.length + 1).map(v => new Date(v, 0, 1));
svg.append("g").selectAll("line").data(yearStarts.slice(1)).join("line")
  .attr("x1", d => x(d)).attr("x2", d => x(d))
  .attr("y1", y(0)).attr("y2", H)
  .attr("stroke", "#333").attr("stroke-width", 1);
svg.append("g").selectAll("text").data(yearLabels).join("text")
  .attr("x", (d, i) => (x(yearStarts[i]) + x(yearStarts[i + 1])) / 2)
  .attr("y", 1167.5)
  .attr("text-anchor", "middle")
  .attr("dominant-baseline", "central")
  .attr("font-family", serif)
  .attr("font-size", 15)
  .attr("textLength", 27)
  .attr("lengthAdjust", "spacingAndGlyphs")
  .attr("fill", "#222")
  .text(d => d);
svg.append("text").attr("x", 124).attr("y", 1167).attr("text-anchor", "middle")
  .attr("dominant-baseline", "central").attr("font-family", serif).attr("font-size", 15)
  .attr("fill", "#222").text("年");

// axis title
svg.append("text").attr("x", 15).attr("y", 566).attr("dominant-baseline", "central")
  .attr("font-family", serif).attr("font-size", 11.5).attr("fill", "#333")
  .attr("textLength", 192).attr("lengthAdjust", "spacing")
  .text("降水量　α＝０．９５，Ｎ＝１０");
svg.append("text").attr("x", 115).attr("y", 582).attr("dominant-baseline", "central")
  .attr("font-family", serif).attr("font-size", 11.5).attr("fill", "#333")
  .attr("textLength", 48).attr("lengthAdjust", "spacing")
  .text("（ｍｍ）");

// block titles
[["<BR.2>", 36], ["<BR.1>", 620]].forEach(([t, cy]) => {
  svg.append("text").attr("x", 30).attr("y", cy).attr("dominant-baseline", "central")
    .attr("font-family", "'Noto Sans', 'DejaVu Sans', sans-serif").attr("font-weight", 700)
    .attr("font-size", 46).attr("textLength", 151).attr("lengthAdjust", "spacingAndGlyphs")
    .attr("fill", "#111").text(t);
});

// summary notes (upper left)
const summaryPos = [[277, 34, 318], [268, 53, 200], [265, 77, 362], [330, 96, 145]];
summaryLines.forEach((t, i) => {
  const [sx, sy, len] = summaryPos[i];
  svg.append("text").attr("x", sx).attr("y", sy).attr("dominant-baseline", "central")
    .attr("font-family", serif).attr("font-size", 12.5).attr("fill", "#333")
    .attr("textLength", len).attr("lengthAdjust", "spacing")
    .text(t);
});

// event markers: circle on each annual peak of effective rainfall
const eventLayout = [
  { title: [804, 26.6, 517], rows: [66.5, 107.6], lx: 821, cx: 972, dl: 160, el: 186 },
  { title: [1249, 158, 633], rows: [199.4, 239.3], lx: 1441, cx: 1587, dl: 159, el: 185 }
];
eventYears.forEach((yr, i) => {
  const pts = redPts.filter(d => d.yr === yr && !d.low && d.v != null);
  const peak = pts.reduce((a, b) => (b.v > a.v ? b : a));
  svg.append("circle")
    .attr("cx", x(peak.date)).attr("cy", y(peak.v)).attr("r", 22.5)
    .attr("fill", "none").attr("stroke", "#ff0000").attr("stroke-width", 5);

  const L = eventLayout[i];
  const g = svg.append("g").attr("font-family", gothic).attr("fill", "#ff0000")
    .attr("font-size", 27.5);
  g.append("text").attr("x", L.title[0]).attr("y", L.title[1]).attr("dominant-baseline", "central")
    .attr("textLength", L.title[2]).attr("lengthAdjust", "spacingAndGlyphs").text(eventTitles[i]);
  g.append("text").attr("x", L.lx).attr("y", L.rows[0]).attr("dominant-baseline", "central").text("・降水量");
  g.append("text").attr("x", L.cx).attr("y", L.rows[0]).attr("dominant-baseline", "central")
    .attr("textLength", L.dl).attr("lengthAdjust", "spacingAndGlyphs").text(eventDaily[i]);
  g.append("text").attr("x", L.lx).attr("y", L.rows[1]).attr("dominant-baseline", "central").text("・実効雨量");
  g.append("text").attr("x", L.cx).attr("y", L.rows[1]).attr("dominant-baseline", "central")
    .attr("textLength", L.el).attr("lengthAdjust", "spacingAndGlyphs").text(eventEffective[i]);
});
</script>
</body>
</html>
